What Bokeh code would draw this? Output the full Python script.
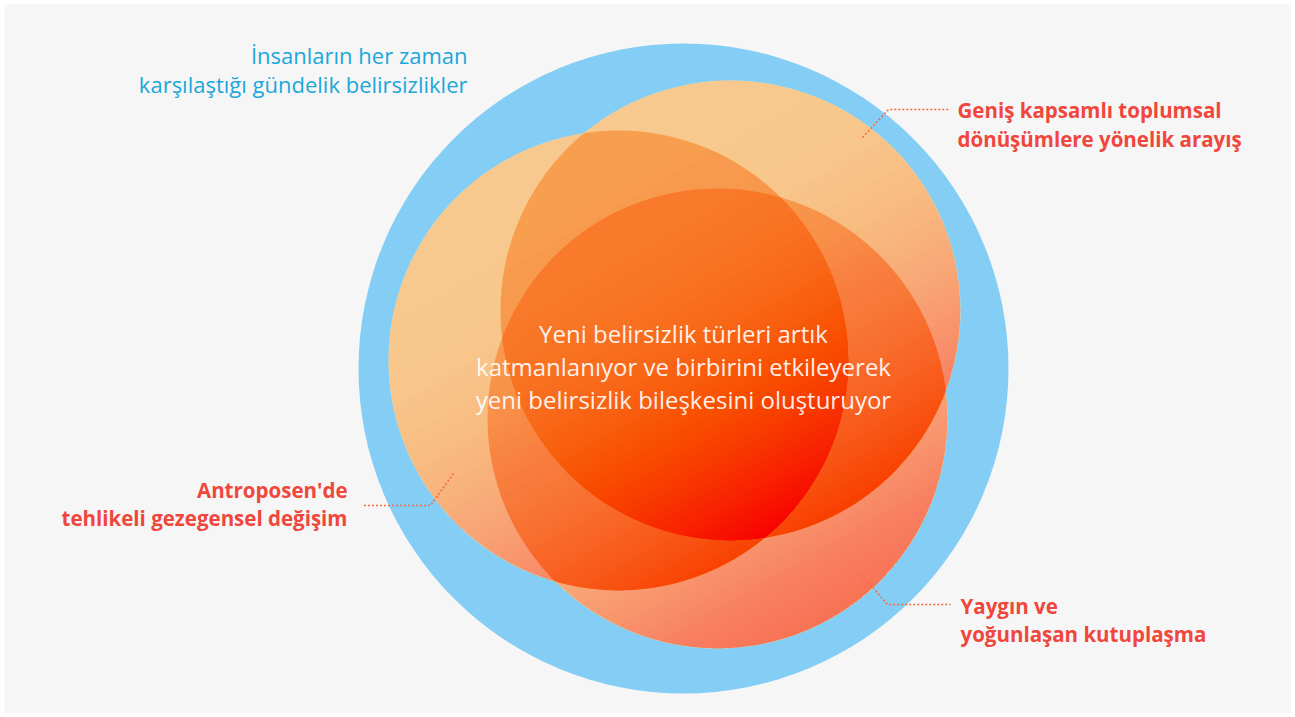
import numpy as np
from bokeh.plotting import figure
from bokeh.models import Range1d
from bokeh.core.properties import value
from bokeh.embed import file_html
from bokeh.resources import INLINE

# ---- data ----
outer_cx = [683]
outer_cy = [368]
outer_r = [325]
outer_label = ["İnsanların her zaman", "karşılaştığı gündelik belirsizlikler"]

circle_cx = [730, 618, 717]
circle_cy = [310, 360, 418]
circle_r = [230, 230, 230]

labels_top_right = ["Geniş kapsamlı toplumsal", "dönüşümlere yönelik arayış"]
labels_left = ["Antroposen'de", "tehlikeli gezegensel değişim"]
labels_bottom_right = ["Yaygın ve", "yoğunlaşan kutuplaşma"]
center_lines = ["Yeni belirsizlik türleri artık",
                "katmanlanıyor ve birbirini etkileyerek",
                "yeni belirsizlik bileşkesini oluşturuyor"]

# ---- figure ----
p = figure(width=1291, height=713, x_range=Range1d(4, 1291), y_range=Range1d(713, 4),
           output_backend="svg", toolbar_location=None,
           min_border_left=4, min_border_top=4, min_border_right=0, min_border_bottom=0,
           x_axis_type=None, y_axis_type=None)
p.grid.visible = False
p.outline_line_color = None
p.background_fill_color = "#f6f6f6"
p.border_fill_color = "#ffffff"

# outer blue circle
p.circle(outer_cx, outer_cy, radius=outer_r, fill_color="#84cef5", line_color=None)

# white base of the three circles
p.circle(circle_cx, circle_cy, radius=circle_r, fill_color="#f8ffff", line_color=None)
# yellow tint (lowers blue channel multiplicatively)
p.circle(circle_cx, circle_cy, radius=circle_r, fill_color="#f8ff00", fill_alpha=0.29, line_color=None)
# red tint (lowers green & blue multiplicatively)
p.circle(circle_cx, circle_cy, radius=circle_r, fill_color="#f80000", fill_alpha=0.21, line_color=None)

# gradient toward lower right (ease-in), stacked circle segments
ang = np.radians(60)
K = 50
t0 = 0.18
f_end = 0.68
alpha = 1 - f_end ** (1.0 / K)
gxs, gys = [], []
for cx, cy, r in zip(circle_cx, circle_cy, circle_r):
    for k in range(K):
        t = t0 + (1 - t0) * np.sqrt(k / K)
        s = -r + 2 * r * t
        half = np.arccos(np.clip(s / r, -1, 1))
        ph = np.linspace(ang - half, ang + half, 120)
        gxs.append(list(cx + r * np.cos(ph)))
        gys.append(list(cy + r * np.sin(ph)))
p.patches(gxs, gys, fill_color="#f81e10", fill_alpha=alpha, line_color=None)

# leader lines
lead_xs = [[862, 888, 950], [453, 430, 363], [862, 887, 950]]
lead_ys = [[137, 109, 109], [473, 505, 505], [575, 604, 604]]
p.multi_line(lead_xs, lead_ys, line_color="#f4683a", line_width=1.5, line_dash="2 2")

# texts
font = value("Open Sans")
p.text(x=[467, 467], y=[54, 83], text=outer_label, text_align="right", text_baseline="middle",
       text_font=font, text_font_size="22px", text_color="#20a6da")
p.text(x=[957, 957], y=[109, 138], text=labels_top_right, text_align="left", text_baseline="middle",
       text_font=font, text_font_size="20.5px", text_font_style="bold", text_color="#f0463c")
p.text(x=[347, 347], y=[489, 517], text=labels_left, text_align="right", text_baseline="middle",
       text_font=font, text_font_size="20.5px", text_font_style="bold", text_color="#f0463c")
p.text(x=[960, 960], y=[605, 633], text=labels_bottom_right, text_align="left", text_baseline="middle",
       text_font=font, text_font_size="20.5px", text_font_style="bold", text_color="#f0463c")
p.text(x=[683, 683, 683], y=[333, 366, 399], text=center_lines, text_align="center", text_baseline="middle",
       text_font=font, text_font_size="24px", text_color="#ffffff", text_alpha=0.92)

open("out.html", "w").write(file_html(p, INLINE))
